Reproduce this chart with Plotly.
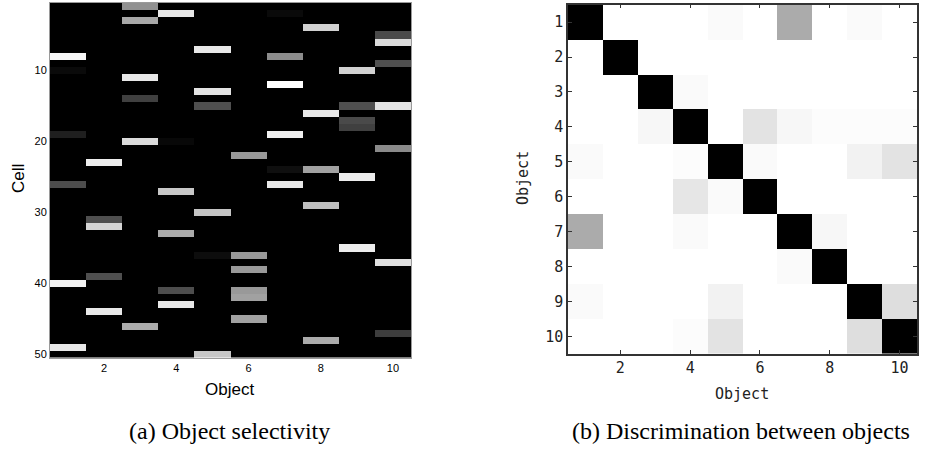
import plotly.graph_objects as go

# ---------------- data ----------------
objects = list(range(1, 11))
cells = list(range(1, 51))

# Left panel: sparse responses (object, cell, brightness 0..1)
active_object = [1, 1, 1, 1, 1, 1,
                 2, 2, 2, 2, 2,
                 3, 3, 3, 3, 3, 3,
                 4, 4, 4, 4, 4, 4,
                 5, 5, 5, 5, 5, 5,
                 6, 6, 6, 6, 6, 6, 6,
                 7, 7, 7, 7, 7, 7,
                 8, 8, 8, 8, 8, 8,
                 9, 9, 9, 9, 9, 9,
                 10, 10, 10, 10, 10, 10, 10]
active_cell = [8, 10, 19, 26, 40, 49,
               23, 31, 32, 39, 44,
               1, 3, 11, 14, 20, 46,
               2, 20, 27, 33, 41, 43,
               7, 13, 15, 30, 36, 50,
               22, 36, 38, 41, 42, 45, 45,
               2, 8, 12, 19, 24, 26,
               4, 16, 24, 29, 48, 48,
               10, 15, 17, 18, 25, 35,
               5, 6, 9, 15, 21, 37, 47]
active_level = [0.97, 0.04, 0.12, 0.30, 0.95, 0.91,
                0.93, 0.31, 0.83, 0.31, 0.91,
                0.57, 0.66, 0.91, 0.25, 0.86, 0.67,
                0.91, 0.03, 0.78, 0.67, 0.30, 0.91,
                0.91, 0.89, 0.31, 0.77, 0.05, 0.78,
                0.60, 0.60, 0.60, 0.60, 0.63, 0.63, 0.63,
                0.04, 0.55, 1.00, 0.94, 0.06, 0.91,
                0.82, 0.91, 0.63, 0.75, 0.67, 0.67,
                0.82, 0.31, 0.29, 0.25, 0.93, 0.93,
                0.29, 0.86, 0.31, 0.89, 0.54, 0.88, 0.24]

# Right panel: discrimination matrix brightness (row = object, col = object)
discrimination = [
    [0.00, 1.00, 1.00, 1.00, 0.98, 1.00, 0.67, 1.00, 0.98, 1.00],
    [1.00, 0.00, 1.00, 1.00, 1.00, 1.00, 1.00, 1.00, 1.00, 1.00],
    [1.00, 1.00, 0.00, 0.98, 1.00, 1.00, 1.00, 1.00, 1.00, 1.00],
    [1.00, 1.00, 0.97, 0.00, 1.00, 0.89, 0.97, 0.99, 0.99, 0.99],
    [0.98, 1.00, 1.00, 0.99, 0.00, 0.98, 1.00, 1.00, 0.95, 0.89],
    [1.00, 1.00, 1.00, 0.90, 0.98, 0.00, 1.00, 1.00, 1.00, 1.00],
    [0.67, 1.00, 1.00, 0.98, 1.00, 1.00, 0.00, 0.97, 1.00, 1.00],
    [1.00, 1.00, 1.00, 1.00, 1.00, 1.00, 0.98, 0.00, 1.00, 1.00],
    [0.98, 1.00, 1.00, 1.00, 0.95, 1.00, 1.00, 1.00, 0.00, 0.87],
    [1.00, 1.00, 1.00, 0.99, 0.89, 1.00, 1.00, 1.00, 0.87, 0.00],
]

tick_objects = [2, 4, 6, 8, 10]
tick_cells = [10, 20, 30, 40, 50]

# ---------------- build ----------------
sel = [[0.0 for _ in objects] for _ in cells]
for o, c, v in zip(active_object, active_cell, active_level):
    sel[c - 1][o - 1] = v

W, H = 939, 454
def px(x):
    return x / W
def py(y):
    return 1 - y / H

gray = [[0, "#000000"], [1, "#ffffff"]]

fig = go.Figure()
fig.add_trace(go.Heatmap(z=sel, x=objects, y=cells, colorscale=gray, zmin=0, zmax=1,
                         showscale=False, xaxis="x", yaxis="y"))
fig.add_trace(go.Heatmap(z=discrimination, x=objects, y=objects, colorscale=gray, zmin=0, zmax=1,
                         showscale=False, xaxis="x2", yaxis="y2"))

sans = dict(family="Liberation Sans, Arial, sans-serif", size=11, color="#000")
mono = dict(family="DejaVu Sans Mono, monospace", size=15, color="#222")

fig.update_layout(
    width=W, height=H, margin=dict(l=0, r=0, t=0, b=0),
    paper_bgcolor="white", plot_bgcolor="white", showlegend=False,
    xaxis=dict(domain=[px(50), px(411)], anchor="y", range=[0.5, 10.5], automargin=False,
               tickvals=tick_objects, ticks="", showgrid=False, zeroline=False,
               showline=True, mirror=True, linecolor="#9a9a9a", linewidth=1,
               tickfont=sans),
    yaxis=dict(domain=[py(357.5), py(3)], anchor="x", range=[50.5, 0.5], automargin=False,
               tickvals=tick_cells, ticks="", showgrid=False, zeroline=False,
               showline=True, mirror=True, linecolor="#9a9a9a", linewidth=1,
               tickfont=sans),
    xaxis2=dict(domain=[px(568), px(917)], anchor="y2", range=[0.5, 10.5], automargin=False,
                tickvals=tick_objects, ticks="inside", ticklen=4, tickcolor="#333",
                showgrid=False, zeroline=False, showline=True, mirror="ticks",
                linecolor="#333", linewidth=1.5, tickfont=mono),
    yaxis2=dict(domain=[py(353.7), py(4.7)], anchor="x2", range=[10.5, 0.5], automargin=False,
                tickvals=objects, ticks="inside", ticklen=4, tickcolor="#333",
                showgrid=False, zeroline=False, showline=True, mirror="ticks",
                linecolor="#333", linewidth=1.5, tickfont=mono),
)

serif = dict(family="Liberation Serif, DejaVu Serif, serif", size=24, color="#000")
label_sans = dict(family="Liberation Sans, Arial, sans-serif", size=17, color="#000")
annotations = [
    dict(text="Cell", x=px(18), y=py(179), textangle=-90, font=label_sans),
    dict(text="Object", x=px(229.5), y=py(389), font=label_sans),
    dict(text="Object", x=px(523), y=py(178), textangle=-90, font=mono),
    dict(text="Object", x=px(742), y=py(394), font=mono),
    dict(text="(a) Object selectivity", x=px(229), y=py(431), font=serif),
    dict(text="(b) Discrimination between objects", x=px(741), y=py(431), font=serif),
]
for a in annotations:
    a.update(xref="paper", yref="paper", showarrow=False, xanchor="center", yanchor="middle")
fig.update_layout(annotations=annotations)

fig.write_html("out.html", config={"displayModeBar": False},
               post_script="document.body.style.margin='0';document.body.style.overflow='hidden';")
